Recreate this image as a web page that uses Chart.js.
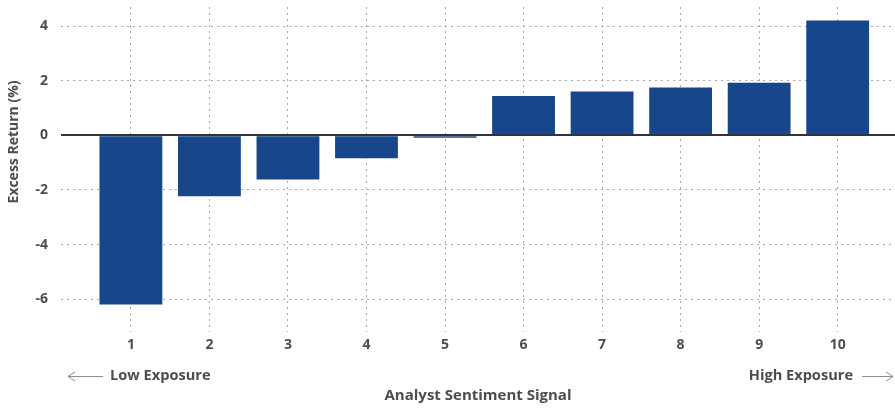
<!DOCTYPE html>
<html>
<head>
<meta charset="utf-8">
<script src="https://cdn.jsdelivr.net/npm/chart.js@4.4.1/dist/chart.umd.min.js"></script>
<style>
  html, body { margin: 0; padding: 0; background: #fff; }
  #wrap { width: 895px; height: 408px; position: relative; }
</style>
</head>
<body>
<div id="wrap"><canvas id="chart"></canvas></div>
<script>
const deciles = [1, 2, 3, 4, 5, 6, 7, 8, 9, 10];
const excessReturn = [-6.19, -2.23, -1.62, -0.84, -0.09, 1.44, 1.61, 1.75, 1.93, 4.21];
const yTicks = [-6, -4, -2, 0, 2, 4];

const yTitle = 'Excess Return (%)';
const xTitle = 'Analyst Sentiment Signal';
const lowLabel = 'Low Exposure';
const highLabel = 'High Exposure';

const textColor = '#4d4d4d';
const gridColor = '#a6a6a6';
const fontFamily = '"Open Sans", "Noto Sans", sans-serif';

const annotations = {
  id: 'annotations',
  afterDraw(chart) {
    const { ctx, chartArea } = chart;
    ctx.save();
    ctx.font = `bold 14px ${fontFamily}`;
    ctx.fillStyle = textColor;
    ctx.textBaseline = 'middle';

    // y title
    ctx.save();
    ctx.translate(14, 142);
    ctx.rotate(-Math.PI / 2);
    ctx.textAlign = 'center';
    ctx.fillText(yTitle, 0, 0);
    ctx.restore();

    const y = 376;
    ctx.font = `bold 14.6px ${fontFamily}`;
    ctx.textAlign = 'left';
    ctx.fillText(lowLabel, chartArea.left + 49, y);
    ctx.textAlign = 'right';
    ctx.fillText(highLabel, chartArea.right - 42, y);

    ctx.strokeStyle = '#8c8c8c';
    ctx.lineWidth = 1;
    const arrow = (x1, x2, dir) => {
      ctx.beginPath();
      ctx.moveTo(x1, y + 0.5);
      ctx.lineTo(x2, y + 0.5);
      const tip = dir < 0 ? x1 : x2;
      ctx.moveTo(tip - dir * 7, y - 4);
      ctx.lineTo(tip, y + 0.5);
      ctx.lineTo(tip - dir * 7, y + 5);
      ctx.stroke();
    };
    arrow(chartArea.left + 7, chartArea.left + 42, -1);
    arrow(chartArea.right - 33, chartArea.right - 2, 1);
    ctx.restore();
  }
};

const ctx = document.getElementById('chart');

new Chart(ctx, {
  type: 'bar',
  data: {
    datasets: [
      {
        label: yTitle,
        data: deciles.map((d, i) => ({ x: d, y: excessReturn[i] })),
        backgroundColor: '#17468a',
        borderWidth: 0,
        barPercentage: 1,
        categoryPercentage: 0.8
      }
    ]
  },
  options: {
    responsive: true,
    maintainAspectRatio: false,
    animation: false,
    layout: { padding: { top: 7, right: 0, left: 0, bottom: 0 } },
    plugins: {
      legend: { display: false },
      tooltip: { enabled: false }
    },
    scales: {
      x: {
        type: 'linear',
        min: 0.11,
        max: 10.73,
        offset: false,
        afterFit: (scale) => {
          scale.height = 76;
          scale.paddingLeft = 0;
          scale.paddingRight = 0;
        },
        grid: {
          offset: false,
          drawTicks: false,
          color: gridColor,
          lineWidth: 1
        },
        border: { display: false, dash: [2, 4] },
        ticks: {
          stepSize: 1,
          includeBounds: false,
          autoSkip: false,
          maxRotation: 0,
          padding: 5,
          color: textColor,
          font: { family: fontFamily, size: 14, weight: 'bold' }
        },
        title: {
          display: true,
          text: xTitle,
          color: textColor,
          padding: { top: 0, bottom: 3 },
          font: { family: fontFamily, size: 15, weight: 'bold' }
        }
      },
      y: {
        min: -7.2,
        max: 4.7,
        afterFit: (scale) => {
          scale.width = 61;
          scale.paddingTop = 0;
          scale.paddingBottom = 0;
        },
        grid: {
          drawTicks: false,
          color: (c) => (c.tick && c.tick.value === 0 ? '#333333' : gridColor),
          lineWidth: (c) => (c.tick && c.tick.value === 0 ? 2 : 1)
        },
        border: {
          display: false,
          dash: (c) => (c.tick && c.tick.value === 0 ? [] : [2, 4])
        },
        afterBuildTicks: (scale) => {
          scale.ticks = yTicks.map((v) => ({ value: v }));
        },
        ticks: {
          padding: 13,
          color: textColor,
          font: { family: fontFamily, size: 14, weight: 'bold' }
        }
      }
    }
  },
  plugins: [annotations]
});
</script>
</body>
</html>
